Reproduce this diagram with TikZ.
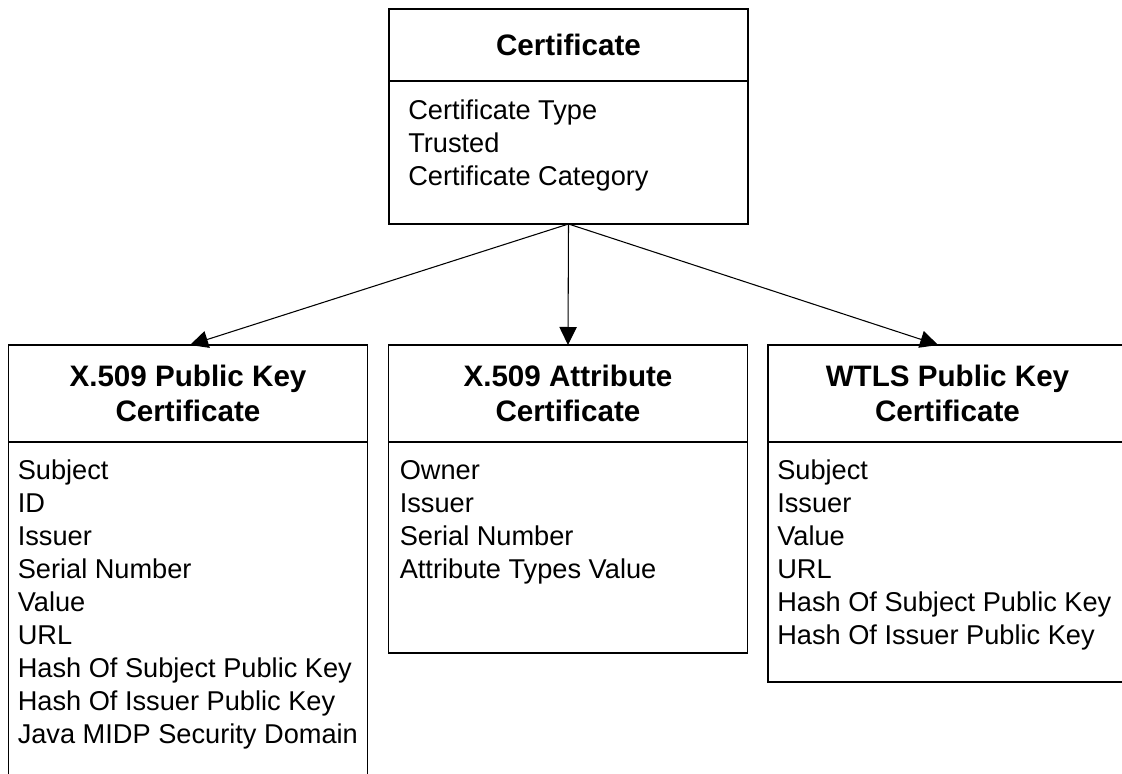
\documentclass[tikz,border=0pt]{standalone}
\usepackage{fontspec}
\setmainfont{Liberation Sans}
\usetikzlibrary{positioning,arrows.meta}

\tikzset{
    kopf/.style={draw, line width=1pt, outer sep=0pt, minimum width=269.25pt, align=center,
        font=\bfseries\fontsize{22.2}{26.25}\selectfont},
    rumpf/.style={draw, line width=1pt, outer sep=0pt, minimum width=269.25pt},
    eintrag/.style={inner sep=0pt, align=left, anchor=north west,
        font=\fontsize{20.4}{24.75}\selectfont},
    pfeil/.style={line width=0.8pt, -{Triangle[length=13.5pt,width=13pt]}}
}

\begin{document}
\begin{tikzpicture}[x=0.75pt,y=-0.75pt]
        \useasboundingbox (0,0) rectangle (1122,774);

        % zeichne Oberklasse
        \node[kopf, minimum height=54pt] (cert) at (568.5,45) {Certificate};
        \node[rumpf, minimum height=107.25pt, below=0pt of cert] (certbody) {};
        \node[eintrag] (certlist) at ([xshift=14.25pt,yshift=-14pt]certbody.north west)
            {Certificate Type\\Trusted\\Certificate Category};

        % zeichne Unterklassen
        \node[kopf, minimum height=72.75pt] (x509) at (188,393.5) {X.509 Public Key\\Certificate};
        \node[rumpf, minimum height=253.5pt, below=0pt of x509] (x509body) {};
        \node[eintrag] (x509list) at ([xshift=6.75pt,yshift=-13.5pt]x509body.north west)
            {Subject\\ID\\Issuer\\Serial Number\\Value\\URL\\Hash Of Subject Public Key\\Hash Of Issuer Public Key\\Java MIDP Security Domain};

        \node[kopf, minimum height=72.75pt] (attr) at (568,393.5) {X.509 Attribute\\Certificate};
        \node[rumpf, minimum height=158.25pt, below=0pt of attr] (attrbody) {};
        \node[eintrag] (attrlist) at ([xshift=8.25pt,yshift=-13.5pt]attrbody.north west)
            {Owner\\Issuer\\Serial Number\\Attribute Types Value};

        \node[kopf, minimum height=72.75pt] (wtls) at (947.5,393.5) {WTLS Public Key\\Certificate};
        \node[rumpf, minimum height=180pt, below=0pt of wtls] (wtlsbody) {};
        \node[eintrag] (wtlslist) at ([xshift=6.75pt,yshift=-13.5pt]wtlsbody.north west)
            {Subject\\Issuer\\Value\\URL\\Hash Of Subject Public Key\\Hash Of Issuer Public Key};

        % zeichne Vererbung
        \draw[pfeil] (certbody.south) -- ([xshift=1.5pt]x509.north);
        \draw[pfeil] (certbody.south) -- (attr.north);
        \draw[pfeil] (certbody.south) -- ([xshift=-7pt]wtls.north);
    \end{tikzpicture}
\end{document}
